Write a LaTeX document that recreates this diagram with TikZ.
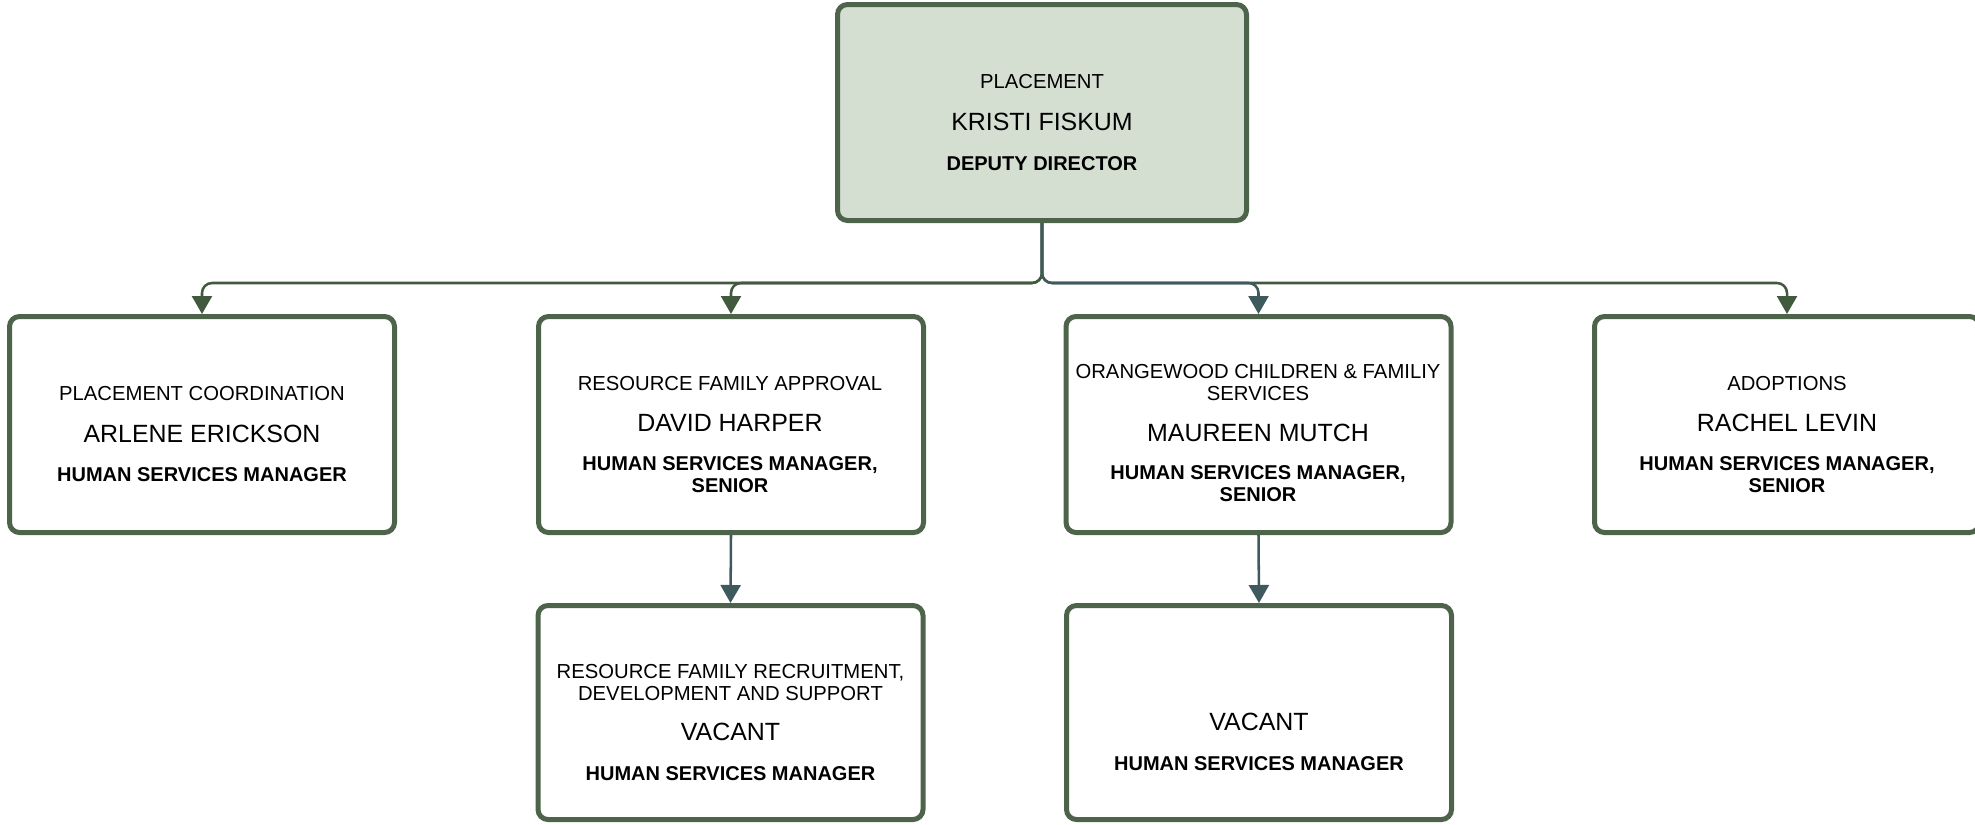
\documentclass[tikz,border=0pt]{standalone}
\usepackage{fontspec}
\setmainfont{Liberation Sans}
\usetikzlibrary{arrows.meta}

\definecolor{boxline}{HTML}{4D644B}
\definecolor{topfill}{HTML}{D4DFD2}
\definecolor{greenline}{HTML}{415A3E}
\definecolor{slateline}{HTML}{3E5A5E}

\begin{document}
\begin{tikzpicture}[x=0.75pt,y=-0.75pt]
        % Setup the styles for the boxes and the texts
        \tikzset{org box/.style={draw=boxline,
                                 line width=3.75pt,
                                 rounded corners=7.5pt,
                                 fill=white,
                                 inner sep=0pt,
                                 minimum width=288.75pt,
                                 minimum height=162pt},
                 top box/.style={org box, fill=topfill, minimum width=306.75pt},
                 low box/.style={org box, minimum height=160.5pt},
                 dept/.style={anchor=base, align=center, font=\fontsize{15.2}{16}\selectfont},
                 person/.style={anchor=base, font=\fontsize{18.7}{20}\selectfont},
                 role/.style={anchor=base, align=center, font=\bfseries\fontsize{15}{16.5}\selectfont},
                 link/.style={draw=greenline, line width=1.9pt, rounded corners=7.5pt,
                              -{Triangle[width=15pt,length=13.5pt]}},
                 link blue/.style={link, draw=slateline}}

        \useasboundingbox (0,0) rectangle (1975,825);

        % Draw the boxes
        \node[top box] at (1042,112.5)  (top)         {};
        \node[org box] at (202,424.5)   (coord)       {};
        \node[org box] at (731,424.5)   (approval)    {};
        \node[org box] at (1258.5,424.5) (orangewood) {};
        \node[org box] at (1787,424.5)  (adoptions)   {};
        \node[low box] at (730.5,712.5) (recruitment) {};
        \node[low box] at (1259,712.5)  (vacant)      {};

        % Texts of the boxes
        \node[dept]   at (1042,88.3)  (topdept)  {PLACEMENT};
        \node[person] at (1042,130)   (topname)  {KRISTI FISKUM};
        \node[role]   at (1042,170)   (toprole)  {DEPUTY DIRECTOR};

        \node[dept]   at (202,400.7)  (coorddept) {PLACEMENT COORDINATION};
        \node[person] at (202,442.7)  (coordname) {ARLENE ERICKSON};
        \node[role]   at (202,481.7)  (coordrole) {HUMAN SERVICES MANAGER};

        \node[dept]   at (730,390)    (appdept)  {RESOURCE FAMILY APPROVAL};
        \node[person] at (730,431)    (appname)  {DAVID HARPER};
        \node[role]   at (730,492.7)  (approle)  {HUMAN SERVICES MANAGER,\\SENIOR};

        \node[dept]   at (1258,400)   (orgdept)  {ORANGEWOOD CHILDREN \& FAMILIY\\SERVICES};
        \node[person] at (1258,441.7) (orgname)  {MAUREEN MUTCH};
        \node[role]   at (1258,501.7) (orgrole)  {HUMAN SERVICES MANAGER,\\SENIOR};

        \node[dept]   at (1787,390)   (adodept)  {ADOPTIONS};
        \node[person] at (1787,431.7) (adoname)  {RACHEL LEVIN};
        \node[role]   at (1787,492.7) (adorole)  {HUMAN SERVICES MANAGER,\\SENIOR};

        \node[dept]   at (730.5,700)  (recdept)  {RESOURCE FAMILY RECRUITMENT,\\DEVELOPMENT AND SUPPORT};
        \node[person] at (730.5,740)  (recname)  {VACANT};
        \node[role]   at (730.5,780.7) (recrole) {HUMAN SERVICES MANAGER};

        \node[person] at (1259,730)   (vacname)  {VACANT};
        \node[role]   at (1259,770)   (vacrole)  {HUMAN SERVICES MANAGER};

        % Connect the boxes with arrows
        \coordinate (bus) at (1042,283);
        \draw[link] (top.south) -- (bus) -| (adoptions.north);
        \draw[link] (top.south) -- (bus) -| (coord.north);
        \draw[link] (top.south) -- (bus) -| (approval.north);
        \draw[link blue] (top.south) -- (bus) -| (orangewood.north);
        \draw[link blue] (approval.south) -- (recruitment.north);
        \draw[link blue] (orangewood.south) -- (vacant.north);
\end{tikzpicture}
\end{document}
